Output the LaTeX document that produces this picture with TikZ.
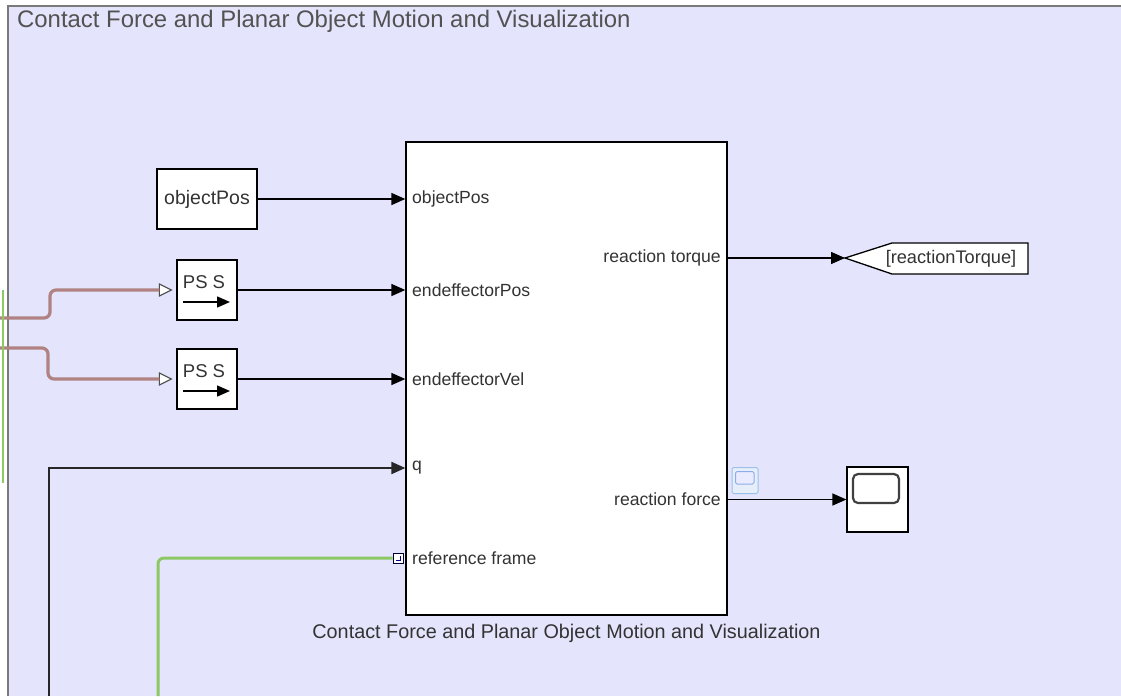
\documentclass[tikz,border=0pt]{standalone}
\usepackage{fontspec}
\setmainfont{Liberation Sans}
\usepackage{xcolor}
\definecolor{slbg}{HTML}{E4E4FC}
\definecolor{slpink}{HTML}{B08282}
\definecolor{slgreen}{HTML}{8CC864}
\definecolor{sltext}{HTML}{333333}
\definecolor{slframe}{HTML}{7A7A7A}
\definecolor{slicon}{HTML}{9CC0E8}
\usetikzlibrary{arrows.meta,positioning,calc}
\tikzset{
  slblock/.style={draw=black,fill=white,line width=1.3pt,inner sep=0pt},
  slport/.style={font=\fontsize{17.6}{20}\selectfont,text=sltext,inner sep=0pt},
  slflow/.style={-{Triangle[length=14pt,width=12pt]},line width=1.5pt},
  slphys/.style={slpink,line width=3.2pt,rounded corners=6pt},
  slmech/.style={slgreen,line width=3pt,rounded corners=6pt},
}

\begin{document}
\begin{tikzpicture}[x=1pt,y=-1pt]
\useasboundingbox (0,0) rectangle (1121,696);
\fill[white] (0,0) rectangle (1121,696);
\fill[slbg] (8,6) rectangle (1121,696);
\draw[slframe,line width=2pt] (8,696) -- (8,6) -- (1121,6);
\node[anchor=west,inner sep=0pt,font=\fontsize{23.9}{26}\selectfont,text=sltext!85] (title) at (17,21) {Contact Force and Planar Object Motion and Visualization};

% subsystem
\node[slblock,minimum width=321pt,minimum height=473pt] (cfm) at (566.5,378.5) {};
\node[slport,anchor=west] (pObj) at (412,199) {objectPos};
\node[slport,anchor=west] (pPos) at (412,290) {endeffectorPos};
\node[slport,anchor=west] (pVel) at (412,379) {endeffectorVel};
\node[slport,anchor=west] (pQ) at (412,468) {q};
\node[slport,anchor=west] (pRef) at (412,558) {reference frame};
\node[slport,anchor=east] (pTrq) at (721,258) {reaction torque};
\node[slport,anchor=east] (pFrc) at (721,499.5) {reaction force};
\node[font=\fontsize{19.8}{22}\selectfont,text=sltext,inner sep=0pt] (cfmname) at ([yshift=-18pt]cfm.south) {Contact Force and Planar Object Motion and Visualization};

% sources
\node[slblock,minimum width=100pt,minimum height=60pt,font=\fontsize{19.5}{22}\selectfont,text=sltext] (objpos) at (207,199) {objectPos};
\foreach \n/\y in {pss1/290,pss2/379}{
  \node[slblock,minimum size=60pt] (\n) at (207,\y) {};
  \node[font=\fontsize{18.5}{20}\selectfont,text=sltext,inner sep=0pt] (\n-txt) at ([xshift=-3pt,yshift=8pt]\n.center) {PS S};
  \draw[-{Triangle[length=13pt,width=11pt]},line width=1.5pt] ([xshift=-24pt,yshift=-12pt]\n.center) -- ([xshift=23pt,yshift=-12pt]\n.center);
  \coordinate (\n-in) at ([xshift=-17pt]\n.west);
  \draw[fill=white,draw=black!70,line width=1.1pt] ([yshift=6pt]\n-in) -- ([xshift=12pt]\n-in) -- ([yshift=-6pt]\n-in) -- cycle;
}

% physical signals
\coordinate (phys1) at (0,318);
\coordinate (phys2) at (0,348);
\draw[slphys] (phys1) -- (50,318) -- (50,290) -- (pss1-in);
\draw[slphys] (phys2) -- (48,348) -- (48,379) -- (pss2-in);
\coordinate (mechA) at (3,290);
\coordinate (mechB) at (3,483);
\draw[slgreen,line width=2.5pt] (mechA) -- (mechB);

% inputs
\draw[slflow] (objpos.east) -- (pObj.west -| cfm.west);
\draw[slflow] (pss1.east) -- (pPos.west -| cfm.west);
\draw[slflow] (pss2.east) -- (pVel.west -| cfm.west);
\coordinate (qsrc) at (49,696);
\draw[slflow,line width=2pt,draw=black!85] (qsrc) |- (pQ.west -| cfm.west);
\node[draw=black!80!blue,fill=white,line width=1pt,minimum size=10pt,inner sep=0pt] (refport) at (398,558) {};
\draw[black!40!blue,line width=0.6pt] ([xshift=-2pt,yshift=-2pt]refport.center) -- ([xshift=2pt,yshift=-2pt]refport.center) -- ([xshift=2pt,yshift=2pt]refport.center);
\coordinate (refsrc) at (158,696);
\draw[slmech] (refsrc) |- (refport.west);

% outputs
\coordinate (gotoTip) at (845,258);
\draw[fill=white,line width=1.3pt] (gotoTip) -- (892,243) -- (1028,243) -- (1028,274) -- (892,274) -- cycle;
\node[slport,font=\fontsize{18.2}{20}\selectfont] (gototxt) at (951,259) {[reactionTorque]};
\draw[slflow] (pTrq.east -| cfm.east) -- (gotoTip);

\node[slblock,minimum width=61pt,minimum height=65pt] (scope) at (877.5,499.5) {};
\draw[draw=black!75,line width=2.2pt,rounded corners=5pt] (853,474) rectangle (899,503);
\draw[slflow] (pFrc.east -| cfm.east) -- (scope.west);

\node[draw=slicon,fill=slicon!25,line width=1pt,rounded corners=1.5pt,minimum size=26pt,inner sep=0pt] (viewer) at (745,480.5) {};
\draw[draw=slicon!90!blue,fill=white!92!blue,line width=1pt,rounded corners=1.5pt] (735.5,471.5) rectangle (754,484);
\end{tikzpicture}
\end{document}
